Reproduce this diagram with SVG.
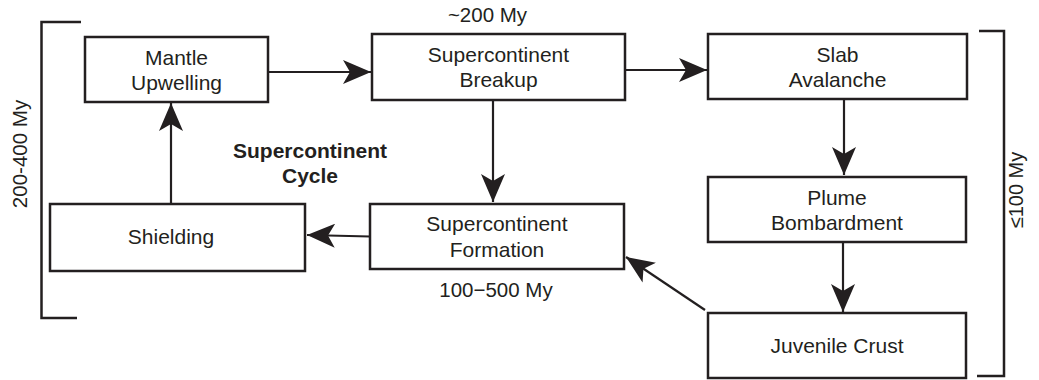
<svg xmlns="http://www.w3.org/2000/svg" width="1039" height="380" viewBox="0 0 1039 380">
<style>
.box{fill:#fff;stroke:#231f20;stroke-width:2.5}
.t{font-family:"Liberation Sans",Arial,sans-serif;font-size:21px;fill:#231f20;text-anchor:middle}
.b{font-weight:bold}
.c{stroke:#231f20;stroke-width:2.2;fill:none;marker-end:url(#ah)}
.br{stroke:#231f20;stroke-width:2.5;fill:none}
</style>
<defs>
<marker id="ah" markerUnits="userSpaceOnUse" viewBox="0 0 28 24" refX="28" refY="12" markerWidth="28" markerHeight="24" orient="auto">
<path d="M0,0 L28,12 L0,24 L7,12 Z" fill="#231f20"/>
</marker>
</defs>
<rect width="1039" height="380" fill="#fff"/>
<g id="brackets">
<path class="br" d="M81,22 H41.5 V318 H77"/>
<path class="br" d="M979,31 H1004 V376 H977"/>
</g>
<g id="connectors">
<line class="c" x1="268" y1="72" x2="371" y2="72"/>
<line class="c" x1="625" y1="70" x2="707" y2="70"/>
<line class="c" x1="844" y1="99" x2="844" y2="175"/>
<line class="c" x1="843" y1="242" x2="843" y2="312"/>
<line class="c" x1="705" y1="310" x2="626" y2="257"/>
<line class="c" x1="493" y1="100" x2="493" y2="202"/>
<line class="c" x1="370" y1="236.5" x2="307" y2="235"/>
<line class="c" x1="171" y1="204" x2="171" y2="103"/>
</g>
<g id="mantle-upwelling">
<rect class="box" x="85" y="37" width="183" height="65"/>
<text class="t" x="176.5" y="65">Mantle</text>
<text class="t" x="176.5" y="90">Upwelling</text>
</g>
<g id="supercontinent-breakup">
<rect class="box" x="372" y="34" width="253" height="66"/>
<text class="t" x="498.5" y="62">Supercontinent</text>
<text class="t" x="498.5" y="87">Breakup</text>
</g>
<g id="slab-avalanche">
<rect class="box" x="708" y="34" width="259" height="65"/>
<text class="t" x="837.5" y="62">Slab</text>
<text class="t" x="837.5" y="87">Avalanche</text>
</g>
<g id="plume-bombardment">
<rect class="box" x="708" y="177" width="258" height="65"/>
<text class="t" x="837" y="205">Plume</text>
<text class="t" x="837" y="230">Bombardment</text>
</g>
<g id="juvenile-crust">
<rect class="box" x="708" y="313" width="258" height="65"/>
<text class="t" x="837" y="353">Juvenile Crust</text>
</g>
<g id="supercontinent-formation">
<rect class="box" x="370" y="204" width="254" height="65"/>
<text class="t" x="497" y="231">Supercontinent</text>
<text class="t" x="497" y="257">Formation</text>
</g>
<g id="shielding">
<rect class="box" x="50" y="204" width="255" height="67"/>
<text class="t" x="171" y="244">Shielding</text>
</g>
<g id="labels">
<text class="t" x="487.5" y="22" style="font-size:20.5px">~200 My</text>
<text class="t" x="496" y="297" style="font-size:20.5px">100−500 My</text>
<text class="t b" x="310" y="158">Supercontinent</text>
<text class="t b" x="310" y="183">Cycle</text>
<text class="t" transform="translate(26.5,154) rotate(-90)" style="font-size:20.5px">200-400 My</text>
<text class="t" transform="translate(1023,190) rotate(-90)" style="font-size:20px">≤100 My</text>
</g>
</svg>
